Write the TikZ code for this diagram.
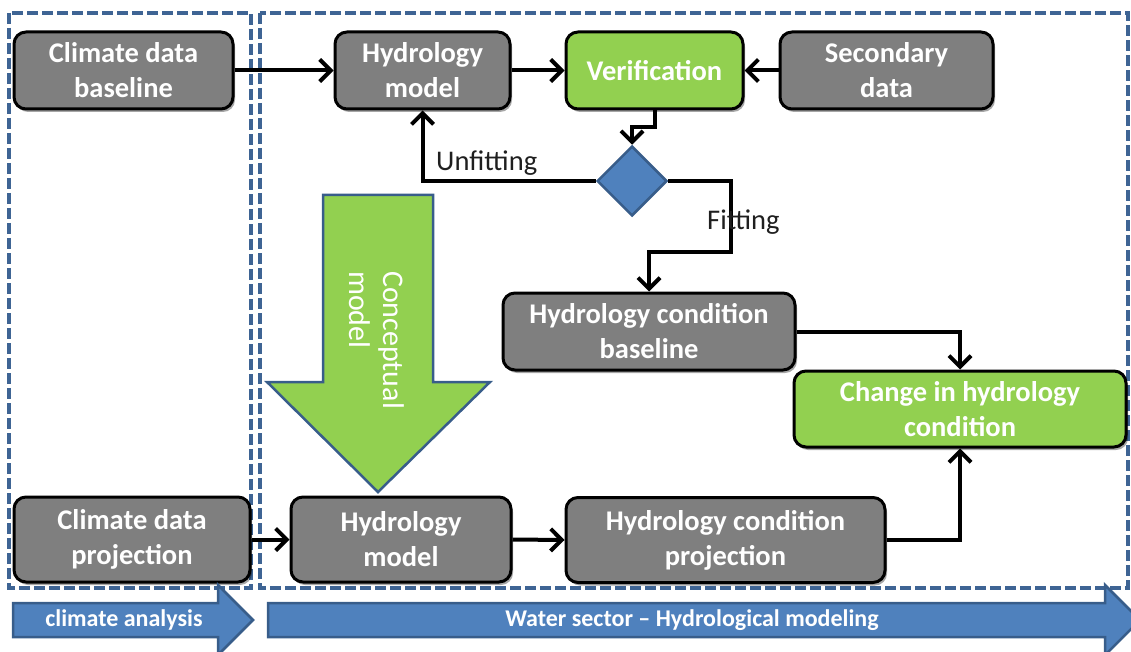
\documentclass[tikz,border=0pt]{standalone}
\usepackage{fontspec}
\setmainfont{Carlito}
\usetikzlibrary{arrows.meta,shapes.geometric,shadows,calc}
\definecolor{boxgray}{HTML}{7F7F7F}
\definecolor{boxgreen}{HTML}{92D050}
\definecolor{flowblue}{HTML}{4F81BD}
\definecolor{edgeblue}{HTML}{385D8A}
\definecolor{dashblue}{HTML}{3E6494}
\begin{document}
\begin{tikzpicture}[x=1pt,y=-1pt,
  procbox/.style={draw=black, line width=3pt, rounded corners=12pt, text=white,
    font=\bfseries\fontsize{28.5}{35}\selectfont, align=center, inner sep=0pt,
    minimum height=77pt,
    drop shadow={shadow xshift=2pt,shadow yshift=-3pt,opacity=0.35,fill=black}},
  graybox/.style={procbox, fill=boxgray},
  greenbox/.style={procbox, fill=boxgreen},
  flow/.style={draw=black, line width=4pt, -{Straight Barb[length=11pt,width=22pt]}},
  region/.style={draw=dashblue, line width=3.2pt, dash pattern=on 11pt off 4pt},
  bandarrow/.style={fill=flowblue, draw=edgeblue, line width=2.5pt, line join=miter},
  bandtext/.style={text=white, font=\bfseries\fontsize{24}{28}\selectfont},
  lbl/.style={text=black!88, font=\fontsize{28.5}{33}\selectfont, inner sep=0pt}
]
\useasboundingbox (0,0) rectangle (1131,652);
\clip (0,0) rectangle (1131,652);

% dashed sector regions
\draw[region] (9,13) rectangle (251,588);
\draw[region] (260,13) rectangle (1128,588);

% conceptual model arrow
\draw[fill=boxgreen, draw=edgeblue, line width=2.5pt, line join=miter]
  (323,195) -- (433,195) -- (433,382) -- (490,382) -- (378,492)
  -- (267,382) -- (323,382) -- cycle;
\node[rotate=-90, align=left, text=white, font=\fontsize{30}{34}\selectfont]
  (concept) at (377,340) {Conceptual\\model};

% process boxes
\node[graybox, minimum width=219pt] (cdb) at (123.5,70.5) {Climate data\\baseline};
\node[graybox, minimum width=175pt] (hm1) at (422.5,70.5) {Hydrology\\model};
\node[greenbox, minimum width=177pt] (ver) at (654.5,70.5) {Verification};
\node[graybox, minimum width=213pt] (sec) at (886.5,70.5) {Secondary\\data};
\node[diamond, fill=flowblue, draw=edgeblue, line width=2.5pt,
  minimum width=70pt, minimum height=70pt, inner sep=0pt] (dia) at (632,181) {};
\node[graybox, minimum width=292pt] (hcb) at (649,331.5) {Hydrology condition\\baseline};
\node[greenbox, minimum width=332pt, minimum height=76pt] (chg) at (960,409)
  {Change in hydrology\\condition};
\node[graybox, minimum width=236pt, minimum height=85pt] (cdp) at (132,539.5)
  {Climate data\\projection};
\node[graybox, minimum width=220pt, minimum height=85pt] (hm2) at (401,539.5)
  {Hydrology\\model};
\node[graybox, minimum width=319pt, minimum height=85pt] (hcp) at (725.5,540)
  {Hydrology condition\\projection};

% connectors
\draw[flow] (cdb.east) -- (hm1.west);
\draw[flow] (hm1.east) -- (ver.west);
\draw[flow] (sec.west) -- (ver.east);
\draw[flow] (ver.south) -- ++(0,17) -| (dia.north);
\draw[flow] (dia.west) -| (hm1.south);
\draw[flow] (dia.east) -- ++(63,0) |- ($(hcb.north)+(0,-40)$) -- (hcb.north);
\draw[flow] (hcb.east) -| (chg.north);
\draw[flow] (hcp.east) -| (chg.south);
\draw[flow] (cdp.east) -- (hm2.west);
\draw[flow] (hm2.east) -- (hcp.west);

\node[lbl, anchor=west] (unfit) at (436,163) {Unfitting};
\node[lbl, anchor=west] (fit) at (707,222) {Fitting};

% phase arrows along the bottom
\draw[bandarrow] (13,603) -- (218,603) -- (218,585) -- (253,620) -- (218,655)
  -- (218,637) -- (13,637) -- cycle;
\node[bandtext] (clim) at (124,620) {climate analysis};
\draw[bandarrow] (268,603) -- (1105,603) -- (1105,585) -- (1140,620) -- (1105,655)
  -- (1105,637) -- (268,637) -- cycle;
\node[bandtext] (water) at (692,620) {Water sector -- Hydrological modeling};
\end{tikzpicture}
\end{document}
